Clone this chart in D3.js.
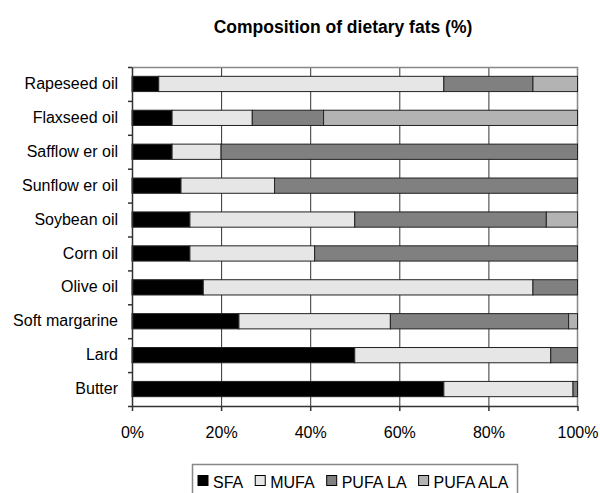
<!DOCTYPE html>
<html>
<head>
<meta charset="utf-8">
<script src="https://cdn.jsdelivr.net/npm/d3@7"></script>
<style>
  body { margin: 0; background: #fff; }
  text { font-family: "Liberation Sans", Arial, sans-serif; fill: #000; }
</style>
</head>
<body>
<svg id="chart"></svg>
<script>
// data (percent of total fat)
const categories = ["Rapeseed oil", "Flaxseed oil", "Safflow er oil", "Sunflow er oil", "Soybean oil",
  "Corn oil", "Olive oil", "Soft margarine", "Lard", "Butter"];
const seriesNames = ["SFA", "MUFA", "PUFA LA", "PUFA ALA"];
const sfa = [6, 9, 9, 11, 13, 13, 16, 24, 50, 70];
const mufa = [64, 18, 11, 21, 37, 28, 74, 34, 44, 29];
const pufaLA = [20, 16, 80, 68, 43, 59, 10, 40, 6, 1];
const pufaALA = [10, 57, 0, 0, 7, 0, 0, 2, 0, 0];
const xTicks = [0, 20, 40, 60, 80, 100];

const colors = ["#000000", "#e6e6e6", "#808080", "#b3b3b3"];

const width = 600;
const height = 493;
const plot = { left: 132, right: 577.5, top: 67, bottom: 406 };

const svg = d3.select("#chart")
    .attr("width", width)
    .attr("height", height);

// build the table for the stack
const rows = categories.map((c, i) => ({
  name: c,
  "SFA": sfa[i],
  "MUFA": mufa[i],
  "PUFA LA": pufaLA[i],
  "PUFA ALA": pufaALA[i]
}));
const stacked = d3.stack().keys(seriesNames)(rows);

const x = d3.scaleLinear()
    .domain([0, 100])
    .range([plot.left, plot.right]);

const y = d3.scaleBand()
    .domain(categories)
    .range([plot.top, plot.bottom])
    .paddingInner(0.55)
    .paddingOuter(0.275);

// title
svg.append("text")
    .attr("x", 343)
    .attr("y", 33)
    .attr("text-anchor", "middle")
    .style("font-size", "17.5px")
    .style("font-weight", "bold")
    .text("Composition of dietary fats (%)");

// vertical gridlines
svg.append("g")
    .selectAll("line")
    .data(xTicks.filter(t => t > 0 && t < 100))
    .enter().append("line")
    .attr("x1", d => x(d) + 0.5)
    .attr("x2", d => x(d) + 0.5)
    .attr("y1", plot.top)
    .attr("y2", plot.bottom)
    .attr("stroke", "#333")
    .attr("stroke-width", 1);

// plot border top and right (grey)
svg.append("path")
    .attr("d", `M${plot.left},${plot.top + 0.5}H${plot.right}V${plot.bottom}`)
    .attr("fill", "none")
    .attr("stroke", "#888")
    .attr("stroke-width", 1.5);

// bars
svg.append("g")
    .selectAll("g")
    .data(stacked)
    .enter().append("g")
    .attr("fill", (d, i) => colors[i])
    .selectAll("rect")
    .data(d => d.filter(p => p[1] - p[0] > 0))
    .enter().append("rect")
    .attr("x", d => x(d[0]))
    .attr("y", d => y(d.data.name))
    .attr("width", d => x(d[1]) - x(d[0]))
    .attr("height", y.bandwidth())
    .attr("stroke", "#222")
    .attr("stroke-width", 1);

// left axis: tick marks between the bars
const yEdge = d3.scaleLinear().domain([0, categories.length]).range([plot.top, plot.bottom]);
const leftAxis = svg.append("g")
    .attr("transform", `translate(${plot.left},0)`)
    .call(d3.axisLeft(yEdge).ticks(categories.length).tickSize(4).tickSizeOuter(0).tickFormat(""));
leftAxis.selectAll("line, path").attr("stroke", "#333").attr("stroke-width", 1.5);

// category labels
svg.append("g")
    .attr("transform", `translate(${plot.left},0)`)
    .call(d3.axisLeft(y).tickSize(0).tickPadding(14))
    .call(g => g.select(".domain").remove())
    .selectAll("text")
    .style("font-size", "16px")
    .style("font-family", "'Liberation Sans', Arial, sans-serif");

// bottom axis
const bottomAxis = svg.append("g")
    .attr("transform", `translate(0,${plot.bottom})`)
    .call(d3.axisBottom(x).tickValues(xTicks).tickSize(5).tickSizeOuter(0).tickPadding(16)
      .tickFormat(d => d + "%"));
bottomAxis.selectAll("line, path").attr("stroke", "#333").attr("stroke-width", 1.5);
bottomAxis.selectAll("text")
    .style("font-size", "16px")
    .style("font-family", "'Liberation Sans', Arial, sans-serif");

// legend
const legend = svg.append("g");
legend.append("rect")
    .attr("x", 192.5)
    .attr("y", 464.5)
    .attr("width", 325)
    .attr("height", 40)
    .attr("fill", "#fff")
    .attr("stroke", "#888")
    .attr("stroke-width", 1.5);

let lx = 198;
seriesNames.forEach((name, i) => {
  legend.append("rect")
      .attr("x", lx)
      .attr("y", 475.5)
      .attr("width", 10)
      .attr("height", 10)
      .attr("fill", colors[i])
      .attr("stroke", "#000")
      .attr("stroke-width", 1);
  const t = legend.append("text")
      .attr("x", lx + 15)
      .attr("y", 488)
      .style("font-size", "16px")
      .text(name);
  lx += 15 + t.node().getComputedTextLength() + 12;
});
</script>
</body>
</html>
